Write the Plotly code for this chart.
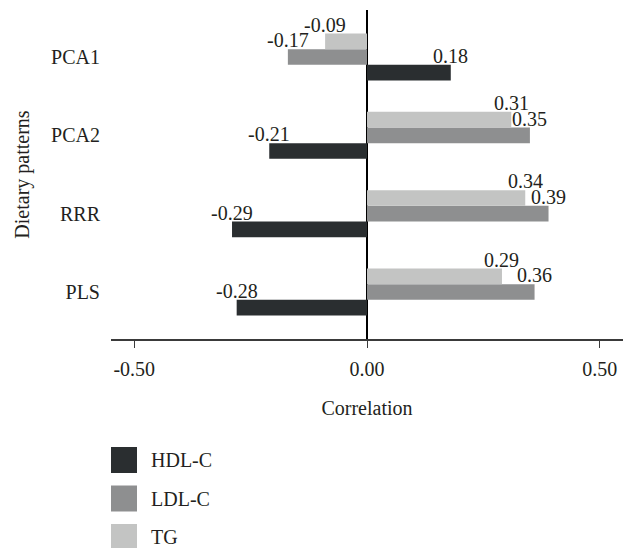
import plotly.graph_objects as go

# ---- data ----
categories = ["PCA1", "PCA2", "RRR", "PLS"]
series_names = ["HDL-C", "LDL-C", "TG"]
hdl_c = [0.18, -0.21, -0.29, -0.28]
ldl_c = [-0.17, 0.35, 0.39, 0.36]
tg = [-0.09, 0.31, 0.34, 0.29]
x_ticks = [-0.50, 0.00, 0.50]
x_tick_labels = ["-0.50", "0.00", "0.50"]

series_values = [hdl_c, ldl_c, tg]
colors = ["#2a2e30", "#8e8f90", "#c3c4c3"]

FONT = "Liberation Serif"
TXT = "#231f20"
FS = 20

W, H = 630, 548
ML, MR, MT, MB = 111, 7, 10, 209
PW, PH = W - ML - MR, H - MT - MB

n = len(categories)
pos = [n - 1 - i for i in range(n)]  # PCA1 at top
bargap = 0.4
nser = len(series_values)
bw = (1 - bargap) / nser

fig = go.Figure()
for k, (name, vals, col) in enumerate(zip(series_names, series_values, colors)):
    fig.add_trace(go.Bar(
        name=name, x=vals, y=pos, orientation="h",
        marker=dict(color=col, line=dict(width=0)),
        showlegend=False, hoverinfo="x+name",
    ))

annotations = []
for k, vals in enumerate(series_values):
    for p, v in zip(pos, vals):
        ytop = p - (1 - bargap) / 2 + bw * (k + 1)
        annotations.append(dict(
            x=v, y=ytop, xref="x", yref="y", text=f"{v:.2f}",
            showarrow=False, xanchor="center", yanchor="bottom", yshift=-4,
            font=dict(family=FONT, size=FS, color=TXT),
        ))

# manual legend (pixel -> paper)
def px_x(px):
    return (px - ML) / PW

def px_y(py):
    return (H - MB - py) / PH

shapes = []
leg_top = 447
leg_step = 38.5
sq = 26
for k, (name, col) in enumerate(zip(series_names, colors)):
    y0 = leg_top + k * leg_step
    shapes.append(dict(type="rect", xref="paper", yref="paper",
                       x0=px_x(111), x1=px_x(111 + sq), y0=px_y(y0 + sq), y1=px_y(y0),
                       fillcolor=col, line=dict(width=0), layer="above"))
    annotations.append(dict(
        x=px_x(149), y=px_y(y0 + sq / 2), xref="paper", yref="paper",
        text=name, showarrow=False, xanchor="left", yanchor="middle",
        font=dict(family=FONT, size=FS, color=TXT),
    ))

fig.update_layout(
    width=W, height=H,
    margin=dict(l=ML, r=MR, t=MT, b=MB),
    paper_bgcolor="white", plot_bgcolor="white",
    barmode="group", bargap=bargap, bargroupgap=0,
    font=dict(family=FONT, size=FS, color=TXT),
    annotations=annotations, shapes=shapes,
    showlegend=False,
)
fig.update_xaxes(
    range=[-0.55, 0.55], tickvals=x_ticks, ticktext=x_tick_labels,
    showgrid=False, zeroline=True, zerolinecolor="#000000", zerolinewidth=1.5,
    showline=True, linecolor="#3a3a3a", linewidth=1.5,
    ticks="outside", ticklen=7, tickwidth=1.3, tickcolor="#3a3a3a",
    ticklabelstandoff=4,
    title=dict(text="Correlation", standoff=22, font=dict(family=FONT, size=FS, color=TXT)),
    tickfont=dict(family=FONT, size=FS, color=TXT),
    automargin=False, fixedrange=True,
)
fig.update_yaxes(
    range=[-0.6, 3.6], tickvals=pos, ticktext=categories,
    showgrid=False, zeroline=False, showline=False, ticks="",
    ticklabelstandoff=10,
    title=dict(text="Dietary patterns", standoff=16, font=dict(family=FONT, size=FS, color=TXT)),
    tickfont=dict(family=FONT, size=FS, color=TXT),
    automargin=False, fixedrange=True,
)

fig.write_html(
    "out.html",
    config={"displayModeBar": False},
    post_script="document.body.style.margin='0';document.body.style.overflow='hidden';",
)
